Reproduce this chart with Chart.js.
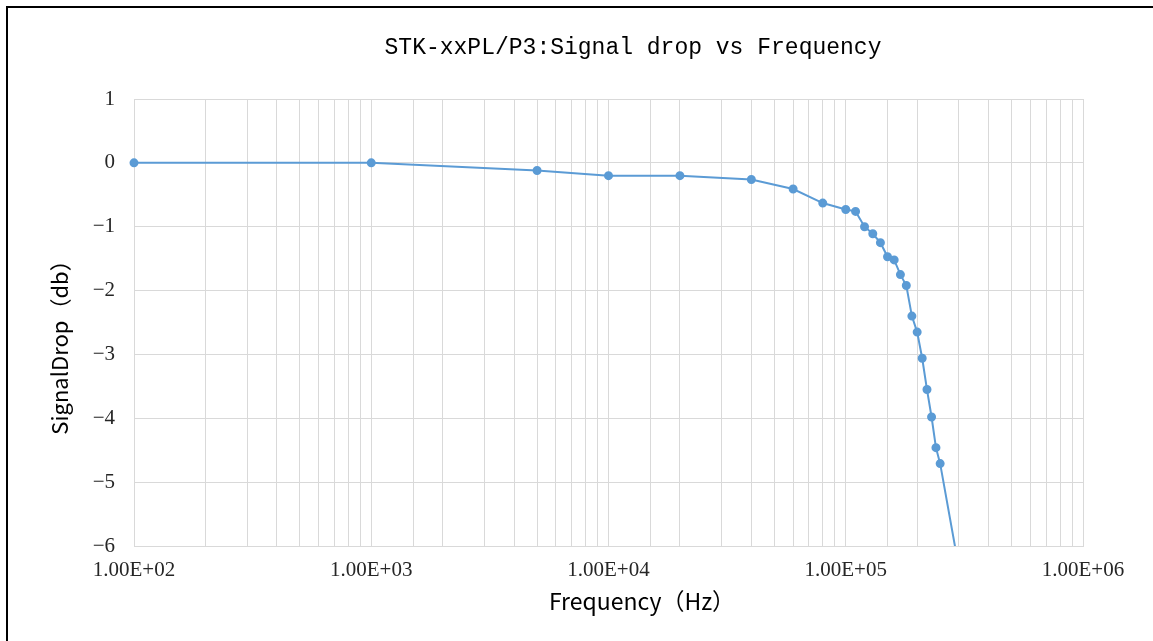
<!DOCTYPE html>
<html>
<head>
<meta charset="utf-8">
<title>STK-xxPL/P3 Signal drop vs Frequency</title>
<script src="https://cdn.jsdelivr.net/npm/chart.js@4/dist/chart.umd.min.js"></script>
<style>
  html, body { margin: 0; padding: 0; background: #fff; }
  #wrap { position: relative; width: 1153px; height: 641px; overflow: hidden; }
  #frame { position: absolute; left: 6px; top: 6px; width: 1200px; height: 700px;
           border-left: 2px solid #000; border-top: 2px solid #000; pointer-events: none; }
</style>
</head>
<body>
<div id="wrap">
  <canvas id="c" width="1153" height="641"></canvas>
  <div id="frame"></div>
</div>
<script>
/* Signal drop vs frequency — log-x line chart. */
const TITLE = "STK-xxPL/P3:Signal drop vs Frequency";
const X_TITLE = "Frequency（Hz）";
const Y_TITLE = "SignalDrop（db）";

const freqHz = [100, 1000, 5000, 10000, 20000, 40000, 60000, 80000, 100000, 110000,
  120000, 130000, 140000, 150000, 160000, 170000, 180000, 190000, 200000, 210000,
  220000, 230000, 240000, 250000, 300000];
const dropDb = [0, 0, -0.12, -0.2, -0.2, -0.26, -0.41, -0.63, -0.73, -0.76,
  -1.0, -1.11, -1.25, -1.47, -1.52, -1.75, -1.92, -2.4, -2.65, -3.06,
  -3.55, -3.98, -4.46, -4.71, -6.35];

const xMin = 100, xMax = 1e6;
const yMin = -6, yMax = 1, yStep = 1;

const BLUE = "#5b9bd5", GRID = "#d9d9d9", TXT = "#262626";
const SANS = "'Noto Sans CJK SC', 'Noto Sans', sans-serif";
const sciLabel = v => {
  const e = Math.log10(v);
  if (Math.abs(e - Math.round(e)) > 1e-9) return "";
  return "1.00E+" + String(Math.round(e)).padStart(2, "0");
};

// Excel places its titles off-centre; draw them ourselves relative to the chart area.
const titles = {
  id: "titles",
  afterDraw(chart) {
    const { ctx, chartArea: a } = chart;
    ctx.save();
    ctx.fillStyle = "#000";
    ctx.textAlign = "center"; ctx.textBaseline = "middle";
    ctx.font = "23px 'Liberation Mono', monospace";
    ctx.fillText(TITLE, a.left + 499, a.top - 51);
    ctx.font = "23px " + SANS;
    ctx.fillText(X_TITLE, a.left + 508, a.bottom + 55);
    ctx.translate(a.left - 74, a.top + 243);
    ctx.rotate(-Math.PI / 2);
    ctx.font = "22px " + SANS;
    ctx.fillText(Y_TITLE, 0, 0);
    ctx.restore();
  },
};

new Chart(document.getElementById("c"), {
  type: "line",
  data: {
    datasets: [{
      label: "Signal drop",
      data: freqHz.map((f, i) => ({ x: f, y: dropDb[i] })),
      borderColor: BLUE, backgroundColor: BLUE,
      borderWidth: 2, pointRadius: 3.5, pointHoverRadius: 3.5,
      tension: 0, clip: { left: 6, top: 6, right: 6, bottom: 0 },
    }],
  },
  options: {
    responsive: false, animation: false, devicePixelRatio: 1,
    layout: { padding: { left: 0, right: 70, top: 99, bottom: 0 } },
    plugins: { legend: { display: false }, tooltip: { enabled: false }, title: { display: false } },
    scales: {
      x: {
        type: "logarithmic", min: xMin, max: xMax,
        grid: { color: GRID, lineWidth: 1, drawTicks: false },
        border: { color: GRID },
        ticks: { autoSkip: false, maxRotation: 0, minRotation: 0, padding: 12, color: TXT,
          font: { family: "'Liberation Serif', serif", size: 21 }, callback: v => sciLabel(v) },
        afterFit: s => { s.height = 95; },
      },
      y: {
        min: yMin, max: yMax,
        grid: { color: GRID, lineWidth: 1, drawTicks: false },
        border: { color: GRID },
        ticks: { stepSize: yStep, padding: 19, color: TXT,
          font: { family: "'Liberation Serif', serif", size: 21 },
          callback: v => (v < 0 ? "\u2212" + Math.abs(v) : String(v)) },
        afterFit: s => { s.width = 134; },
      },
    },
  },
  plugins: [titles],
});
</script>
</body>
</html>
